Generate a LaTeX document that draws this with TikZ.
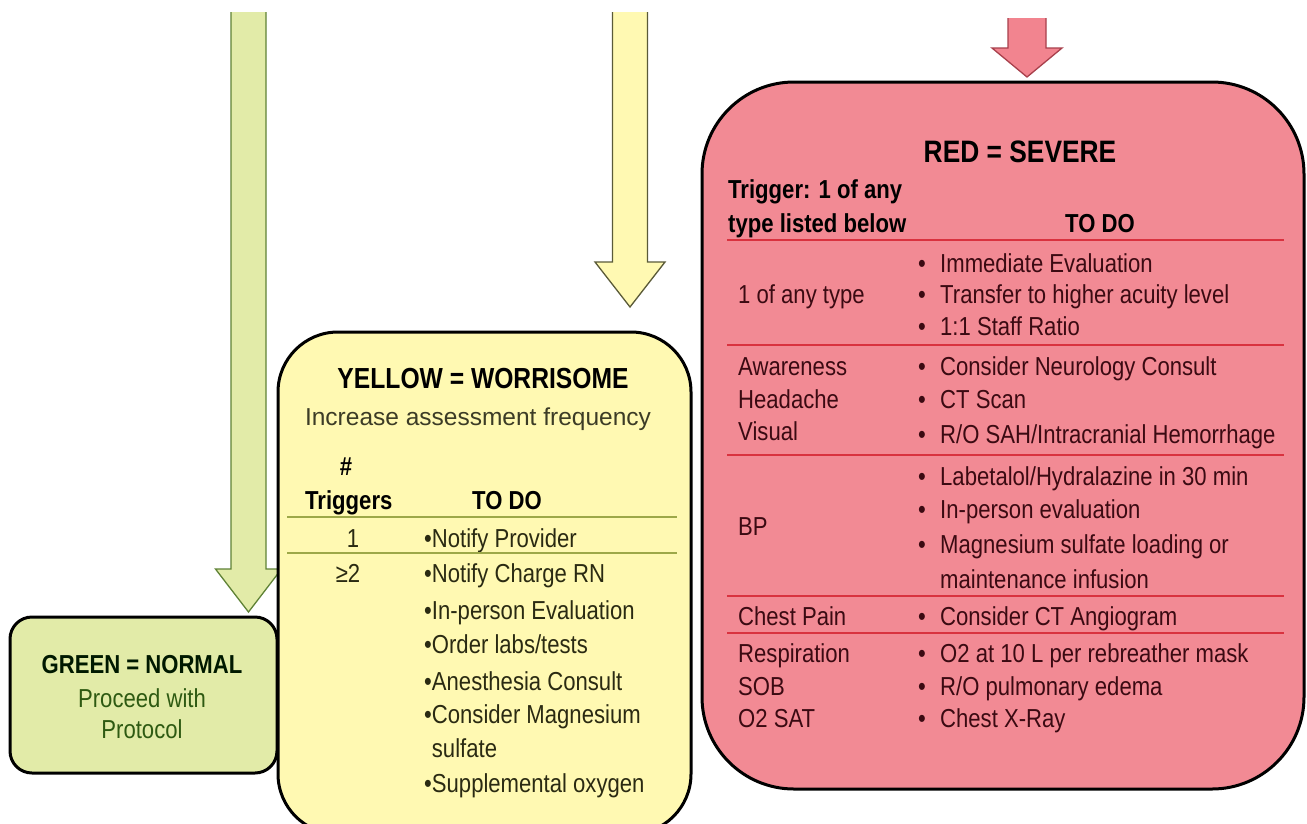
\documentclass[tikz,border=0pt]{standalone}
\usepackage{fontspec}
\setmainfont{Liberation Sans}[FakeStretch=0.85]
\newfontfamily\wideface{Liberation Sans}
\usetikzlibrary{positioning}

\definecolor{grnfill}{HTML}{E2EBA8}
\definecolor{grnline}{HTML}{5F8236}
\definecolor{grntext}{HTML}{2E5A12}
\definecolor{ylwfill}{HTML}{FFF9B2}
\definecolor{ylwline}{HTML}{5A5A38}
\definecolor{ylwrule}{HTML}{9DA848}
\definecolor{ylwtext}{HTML}{2A2A12}
\definecolor{ylwsub}{HTML}{3C3C26}
\definecolor{redfill}{HTML}{F28A94}
\definecolor{redarr}{HTML}{F2848F}
\definecolor{redline}{HTML}{A8404C}
\definecolor{redrule}{HTML}{D9323F}
\definecolor{redtext}{HTML}{3B0A12}

\tikzset{
  box/.style={draw=black, line width=3pt, inner sep=0pt},
  txt/.style={inner sep=0pt, font=\fontsize{26}{30}\selectfont},
  hdr/.style={inner sep=0pt, font=\fontsize{26}{30}\selectfont\bfseries},
  ttl/.style={inner sep=0pt, font=\fontsize{29}{33}\selectfont\bfseries},
  ylwrow/.style={ylwrule, line width=2pt},
  redrow/.style={redrule, line width=2pt},
}

% #1 tip name, #2 centre x, #3 shaft half, #4 head half, #5 shaft top, #6 head top, #7 tip y, #8 fill, #9 line
\newcommand{\blockarr}[9]{%
  \filldraw[fill=#8, draw=#9, line width=1.3pt, line join=miter]
    (#2-#3,#5) -- (#2-#3,#6) -- (#2-#4,#6) -- (#2,#7) coordinate (#1)
    -- (#2+#4,#6) -- (#2+#3,#6) -- (#2+#3,#5);}

\begin{document}
\begin{tikzpicture}[x=1pt, y=-1pt]
  \clip (0,0) rectangle (1307,823);
  \fill[white] (0,0) rectangle (1307,823);

  % arrows coming down from above
  \blockarr{gtip}{248.5}{17.5}{33}{12}{569}{612}{grnfill}{grnline}
  \blockarr{ytip}{630}{17.5}{35}{12}{262}{307}{ylwfill}{ylwline}
  \blockarr{rtip}{1027}{19}{35}{18}{48}{77}{redarr}{redline}

  % the three boxes
  \node[box, fill=grnfill, rounded corners=22pt, minimum width=267pt, minimum height=156pt]
    (green) at (143.5,695) {};
  \node[box, fill=ylwfill, rounded corners=60pt, minimum width=413pt, minimum height=502pt]
    (yellow) at (484.5,583) {};
  \node[box, fill=redfill, rounded corners=92pt, minimum width=602pt, minimum height=707pt]
    (red) at (1003,435.5) {};

  % green
  \node[hdr, text=black!90!green, anchor=base] (gtitle) at (142,673) {GREEN = NORMAL};
  \node[txt, text=grntext, anchor=base] (gsub1) at (142,707) {Proceed with};
  \node[txt, text=grntext, anchor=base] (gsub2) at (142,738) {Protocol};

  % yellow
  \node[ttl, anchor=base] (ytitle) at (483,388) {YELLOW = WORRISOME};
  \node[txt, font=\wideface\fontsize{24.5}{30}\selectfont, text=ylwsub, anchor=base]
    (ysub) at (478,425) {Increase assessment frequency};
  \node[hdr, anchor=base] (yhash) at (346,475) {\#};
  \node[hdr, anchor=base west] (ytrig) at (305,509) {Triggers};
  \node[hdr, anchor=base] (ytodo) at (507,509) {TO DO};
  \draw[ylwrow] (287,517) -- (677,517);
  \node[txt, text=ylwtext, anchor=base] (yone) at (353,547) {1};
  \node[txt, text=ylwtext, anchor=base west] (yprov) at (424,547) {•Notify Provider};
  \draw[ylwrow] (287,553) -- (677,553);
  \node[txt, text=ylwtext, anchor=base] (ytwo) at (348,582) {≥2};
  \foreach \y/\t [count=\i] in {582/{•Notify Charge RN}, 619/{•In-person Evaluation},
      653/{•Order labs/tests}, 690/{•Anesthesia Consult}, 723/{•Consider Magnesium},
      757/{\phantom{•}sulfate}, 792/{•Supplemental oxygen}}
    \node[txt, text=ylwtext, anchor=base west] (yitem\i) at (424,\y) {\t};

  % red
  \node[ttl, font=\fontsize{31}{35}\selectfont\bfseries, anchor=base] (rtitle) at (1020,162) {RED = SEVERE};
  \node[hdr, anchor=base west] (rtrig1) at (728,198) {Trigger: 1 of any};
  \node[hdr, anchor=base west] (rtrig2) at (728,232) {type listed below};
  \node[hdr, anchor=base] (rtodo) at (1100,232) {TO DO};
  \foreach \y in {240,345,455,596,633}
    \draw[redrow] (727,\y) -- (1284,\y);
  \foreach \y/\t [count=\i] in {303/{1 of any type}, 375/{Awareness}, 408/{Headache},
      440/{Visual}, 535/{BP}, 625/{Chest Pain}, 662/{Respiration}, 695/{SOB}, 727/{O2 SAT}}
    \node[txt, text=redtext, anchor=base west] (rlab\i) at (738,\y) {\t};
  \foreach \y/\t [count=\i] in {272/{Immediate Evaluation}, 303/{Transfer to higher acuity level},
      335/{1:1 Staff Ratio}, 375/{Consider Neurology Consult}, 408/{CT Scan},
      443/{R/O SAH/Intracranial Hemorrhage}, 485/{Labetalol/Hydralazine in 30 min},
      518/{In-person evaluation}, 553/{Magnesium sulfate loading or}, 625/{Consider CT Angiogram},
      662/{O2 at 10 L per rebreather mask}, 695/{R/O pulmonary edema}, 727/{Chest X-Ray}}{
    \node[txt, text=redtext, anchor=base] (rdot\i) at (922,\y) {•};
    \node[txt, text=redtext, anchor=base west] (ritem\i) at (940,\y) {\t};
  }
  \node[txt, text=redtext, anchor=base west] (rcont) at (940,588) {maintenance infusion};
\end{tikzpicture}
\end{document}
